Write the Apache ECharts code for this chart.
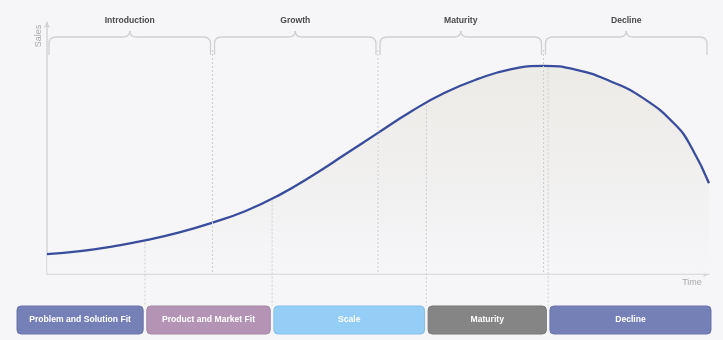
<!DOCTYPE html>
<html>
<head>
<meta charset="utf-8">
<script src="https://cdn.jsdelivr.net/npm/echarts@6/dist/echarts.min.js"></script>
<style>
  html, body { margin: 0; padding: 0; background: #f6f5f8; }
  #chart { width: 723px; height: 340px; }
</style>
</head>
<body>
<div id="chart"></div>
<script>
// curve of the product life cycle (time 0..100, sales 0..100)
var timeX  = [0, 5, 10, 15, 20, 25, 30, 35, 40, 45, 50, 55, 60, 65, 70, 75, 80, 85, 90, 95, 97.5, 100];
var salesY = [7.9, 9.1, 11.0, 13.4, 16.5, 20.4, 25.0, 31.2, 38.9, 47.4, 56.0, 64.5, 71.8, 77.3, 81.2, 82.6, 81.0, 76.6, 69.9, 59.0, 49.5, 36.0];

// stages on top
var stageNames  = ["Introduction", "Growth", "Maturity", "Decline"];
var stageBounds = [0, 25, 50, 75, 100];

// boxes at the bottom
var fitNames  = ["Problem and Solution Fit", "Product and Market Fit", "Scale", "Maturity", "Decline"];
var fitBounds = [14.8, 34, 57.3, 75.7];
var fitColors = ["#7581b6", "#b394b4", "#94cdf6", "#858585", "#7581b6"];
var fitBorders = ["#6a76ab", "#a688a8", "#86c1ea", "#787878", "#6a76ab"];

var chart = echarts.init(document.getElementById("chart"));

var lineData = timeX.map(function (x, i) { return [x, salesY[i]]; });

chart.setOption({
  backgroundColor: "#f6f5f8",
  animation: false,
  grid: { left: 47, right: 14, top: 22, bottom: 66 },
  xAxis: {
    type: "value", min: 0, max: 100,
    axisLine: { show: true, symbol: ["none", "arrow"], symbolSize: [5, 6], lineStyle: { color: "#d4d3d6", width: 1.5 } },
    axisTick: { show: false }, axisLabel: { show: false }, splitLine: { show: false }
  },
  yAxis: {
    type: "value", min: 0, max: 100,
    axisLine: { show: true, symbol: ["none", "arrow"], symbolSize: [5, 6], lineStyle: { color: "#d4d3d6", width: 1.5 } },
    axisTick: { show: false }, axisLabel: { show: false }, splitLine: { show: false }
  },
  series: [{
    type: "line",
    data: lineData,
    smooth: 0.5,
    symbol: "none",
    lineStyle: { color: "#3a4d9d", width: 2.3 },
    areaStyle: {
      color: {
        type: "linear", x: 0, y: 0, x2: 0, y2: 1,
        colorStops: [{ offset: 0, color: "#e7e6de" }, { offset: 1, color: "#f6f5f8" }]
      }
    },
    z: 3
  }]
});

// y of the curve at some x (only used to start the dotted lines)
function curveAt(x) {
  for (var i = 1; i < timeX.length; i++) {
    if (x <= timeX[i]) {
      var t = (x - timeX[i - 1]) / (timeX[i] - timeX[i - 1]);
      return salesY[i - 1] + t * (salesY[i] - salesY[i - 1]);
    }
  }
  return salesY[salesY.length - 1];
}

function px(x, y) { return chart.convertToPixel({ gridIndex: 0 }, [x, y]); }

var graphics = [];
var axisY = px(0, 0)[1];
var dotted = { stroke: "#cfcfd2", lineWidth: 1, lineDash: [2, 2] };
var braceStyle = { stroke: "#d0cfd2", lineWidth: 1.3, fill: null };

function seg(a, b, c, d) {
  graphics.push({ type: "line", shape: { x1: a, y1: b, x2: c, y2: d }, style: braceStyle, z: 5 });
}
function quad(a, b, qx, qy, c, d) {
  graphics.push({ type: "bezierCurve", shape: { x1: a, y1: b, cpx1: qx, cpy1: qy, x2: c, y2: d }, style: braceStyle, z: 5 });
}

// stage dividers + braces + labels
var braceTop = 37, braceEnd = 55, braceTip = 31;
for (var s = 0; s < stageNames.length; s++) {
  var x0 = px(stageBounds[s], 0)[0] + 2;
  var x1 = px(stageBounds[s + 1], 0)[0] - 2;
  var cx = (x0 + x1) / 2;
  var r = 7;
  seg(x0, braceEnd, x0, braceTop + r);
  quad(x0, braceTop + r, x0, braceTop, x0 + r, braceTop);
  seg(x0 + r, braceTop, cx - 7, braceTop);
  quad(cx - 7, braceTop, cx, braceTop, cx, braceTip);
  quad(cx, braceTip, cx, braceTop, cx + 7, braceTop);
  seg(cx + 7, braceTop, x1 - r, braceTop);
  quad(x1 - r, braceTop, x1, braceTop, x1, braceTop + r);
  seg(x1, braceTop + r, x1, braceEnd);
  graphics.push({
    type: "text", x: cx, y: 21,
    style: { text: stageNames[s], fill: "#4a4a4a", font: "bold 8.6px Arial, 'Liberation Sans', sans-serif", textAlign: "center", textVerticalAlign: "middle" }
  });
  if (s > 0) {
    var sx = px(stageBounds[s], 0)[0];
    graphics.push({ type: "line", shape: { x1: sx, y1: 50, x2: sx, y2: axisY }, style: dotted, z: 4 });
  }
}

// bottom boxes + dividers from the curve
var boxTop = 306, boxBottom = 334;
var edges = [px(0, 0)[0] - 30].concat(fitBounds.map(function (b) { return px(b, 0)[0]; }), [px(100, 0)[0] + 2]);
for (var k = 0; k < fitNames.length; k++) {
  var bx0 = k === 0 ? edges[0] : edges[k] + 1.8;
  var bx1 = k === fitNames.length - 1 ? edges[k + 1] : edges[k + 1] - 1.8;
  graphics.push({
    type: "rect",
    shape: { x: bx0, y: boxTop, width: bx1 - bx0, height: boxBottom - boxTop, r: 4 },
    style: { fill: fitColors[k], stroke: fitBorders[k], lineWidth: 1 },
    z: 5
  });
  graphics.push({
    type: "text", x: (bx0 + bx1) / 2, y: (boxTop + boxBottom) / 2,
    style: { text: fitNames[k], fill: "#ffffff", font: "bold 8.6px Arial, 'Liberation Sans', sans-serif", textAlign: "center", textVerticalAlign: "middle" },
    z: 6
  });
}
fitBounds.forEach(function (b) {
  var p = px(b, curveAt(b));
  graphics.push({ type: "line", shape: { x1: p[0], y1: p[1] + 2, x2: p[0], y2: boxTop }, style: dotted, z: 4 });
});

// axis names
graphics.push({
  type: "text", x: 39, y: 36, rotation: Math.PI / 2,
  style: { text: "Sales", fill: "#a9a8ac", font: "9px Arial, 'Liberation Sans', sans-serif", textAlign: "center", textVerticalAlign: "middle" }
});
graphics.push({
  type: "text", x: 692, y: 283,
  style: { text: "Time", fill: "#a9a8ac", font: "9px Arial, 'Liberation Sans', sans-serif", textAlign: "center", textVerticalAlign: "middle" }
});

chart.setOption({ graphic: graphics });
</script>
</body>
</html>
